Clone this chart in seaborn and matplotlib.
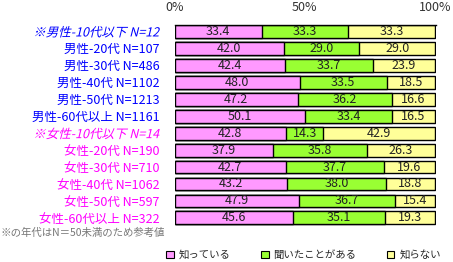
import matplotlib
matplotlib.use("Agg")
import matplotlib.pyplot as plt
import seaborn as sns
import pandas as pd
import numpy as np
from matplotlib.patches import Patch
from matplotlib import patheffects
from matplotlib.transforms import Affine2D

categories = ["※男性-10代以下 N=12", "男性-20代 N=107", "男性-30代 N=486", "男性-40代 N=1102",
              "男性-50代 N=1213", "男性-60代以上 N=1161", "※女性-10代以下 N=14", "女性-20代 N=190",
              "女性-30代 N=710", "女性-40代 N=1062", "女性-50代 N=597", "女性-60代以上 N=322"]
known = [33.4, 42.0, 42.4, 48.0, 47.2, 50.1, 42.8, 37.9, 42.7, 43.2, 47.9, 45.6]
heard = [33.3, 29.0, 33.7, 33.5, 36.2, 33.4, 14.3, 35.8, 37.7, 38.0, 36.7, 35.1]
unknown = [33.3, 29.0, 23.9, 18.5, 16.6, 16.5, 42.9, 26.3, 19.6, 18.8, 15.4, 19.3]
series_names = ["知っている", "聞いたことがある", "知らない"]
colors = ["#FF99FF", "#99FF33", "#FFFF99"]
label_colors = ["#0000FF"] * 6 + ["#FF00FF"] * 6
italic_rows = [0, 6]
xticks = [0, 50, 100]
xticklabels = ["0%", "50%", "100%"]
footnote = "※の年代はN＝50未満のため参考値"

sns.set_style("white")
plt.rcParams['font.family'] = ['Noto Sans CJK JP', 'DejaVu Sans']


class Skew(patheffects.AbstractPathEffect):
    def __init__(self, deg=14):
        super().__init__()
        self.deg = deg

    def draw_path(self, renderer, gc, tpath, affine, rgbFace=None):
        renderer.draw_path(gc, tpath, Affine2D().skew_deg(self.deg, 0) + affine, rgbFace)


df = pd.DataFrame({"cat": categories, "known": known, "heard": heard, "unknown": unknown})
df["c1"] = df["known"]
df["c2"] = df["known"] + df["heard"]
df["c3"] = df["c2"] + df["unknown"]

fig = plt.figure(figsize=(4.53, 2.62), dpi=100)
ax = fig.add_axes([0.3857, 0.136, 0.5762, 0.7685])

bw = 0.76
for col, c in zip(["c3", "c2", "c1"], colors[::-1]):
    sns.barplot(data=df, x=col, y="cat", order=categories, color=c, width=bw,
                edgecolor="black", linewidth=1.0, saturation=1, ax=ax, orient="h")

starts = [np.zeros(len(df)), df["c1"].values, df["c2"].values]
vals = [df["known"].values, df["heard"].values, df["unknown"].values]
for s, v in zip(starts, vals):
    for i in range(len(df)):
        ax.text(s[i] + v[i] / 2, i, f"{v[i]:.1f}", ha="center", va="center",
                fontsize=9, color="#222222")

ax.set_xlim(0, 100.3)
ax.set_ylim(len(categories) - 0.5, -bw / 2)
ax.xaxis.tick_top()
ax.set_xticks(xticks)
ax.set_xticklabels(xticklabels, fontsize=9, color="#333333")
ax.tick_params(axis="x", length=0, pad=8)
ax.tick_params(axis="y", length=0, pad=11)
ax.set_xlabel("")
ax.set_ylabel("")
for sp in ["left", "right", "bottom"]:
    ax.spines[sp].set_visible(False)
ax.spines["top"].set_color("black")
ax.spines["top"].set_linewidth(1.0)

for i, lab in enumerate(ax.get_yticklabels()):
    lab.set_color(label_colors[i])
    lab.set_fontsize(9)
    if i in italic_rows:
        lab.set_path_effects([Skew(14)])

fig.text(0.002, 1 - 233 / 262, footnote, fontsize=7.5, color="#777777", va="center", ha="left")

handles = [Patch(facecolor=c, edgecolor="black", linewidth=0.8) for c in colors]
fig.legend(handles, series_names, loc="center", bbox_to_anchor=(0.67, 1 - 255 / 262), ncol=3,
           frameon=False, fontsize=7.5, handlelength=0.75, handleheight=0.75, handletextpad=0.45,
           columnspacing=2.9, borderpad=0)

fig.savefig("out.png", dpi=100)
